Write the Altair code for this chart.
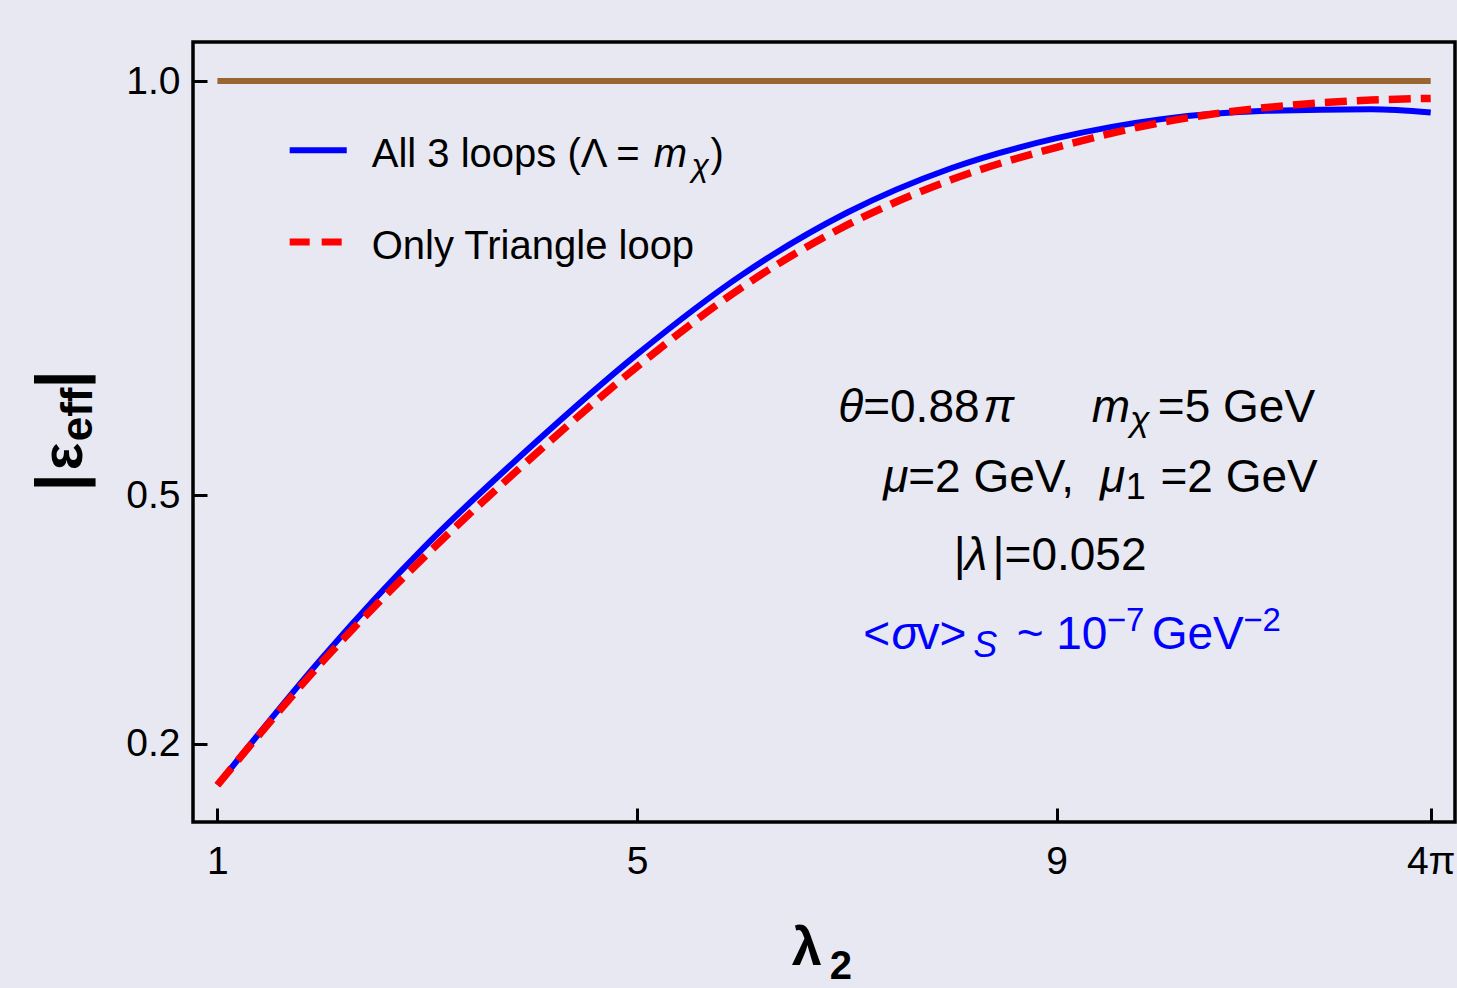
import math
import altair as alt
import pandas as pd

PI4 = 4 * math.pi

# ---- data ----
lam = [1, 2, 3, 4, 5, 6, 7, 8, 9, 10, 11, 12, PI4]
all_loops = [0.150, 0.304, 0.441, 0.560, 0.670, 0.766, 0.841, 0.895, 0.931, 0.954, 0.964, 0.966, 0.962]
triangle_only = [0.150, 0.299, 0.429, 0.546, 0.655, 0.751, 0.826, 0.881, 0.920, 0.950, 0.968, 0.977, 0.979]
ref_lam = [1, PI4]
ref_val = [1.0, 1.0]

x_ticks = [1, 5, 9, PI4]
y_ticks = [0.2, 0.5, 1.0]

FONT = "Liberation Sans"
BG = "#E8E8F2"
BLUE = "#0000FF"
RED = "#FF0000"
BROWN = "#996633"

xs = alt.Scale(domain=[0.7673, 12.798], nice=False, zero=False)
ys = alt.Scale(domain=[0.1056, 1.0471], nice=False, zero=False)

x_axis = alt.Axis(values=x_ticks, title=None, domain=False, grid=False,
                  labelExpr="datum.value > 12 ? '4π' : format(datum.value, 'd')",
                  tickSize=14, tickWidth=3, tickColor="black", offset=-14,
                  labelFont=FONT, labelFontSize=39, labelColor="black",
                  labelPadding=20, labelFlush=False, labelOverlap=False)
y_axis = alt.Axis(values=y_ticks, title=None, domain=False, grid=False, format=".1f",
                  tickSize=14, tickWidth=3, tickColor="black", offset=-14,
                  labelFont=FONT, labelFontSize=39, labelColor="black",
                  labelPadding=13, labelFlush=False, labelOverlap=False)


def X():
    return alt.X("lam:Q", scale=xs, axis=x_axis)


def Y():
    return alt.Y("v:Q", scale=ys, axis=y_axis)


ref_df = pd.DataFrame({"lam": ref_lam, "v": ref_val})
all_df = pd.DataFrame({"lam": lam, "v": all_loops})
tri_df = pd.DataFrame({"lam": lam, "v": triangle_only})

brown = alt.Chart(ref_df).mark_line(color=BROWN, strokeWidth=6).encode(x=X(), y=Y())
blue = alt.Chart(all_df).mark_line(color=BLUE, strokeWidth=6, interpolate="monotone").encode(x=X(), y=Y())
red = alt.Chart(tri_df).mark_line(color=RED, strokeWidth=7.5, strokeDash=[22, 10],
                                  interpolate="monotone").encode(x=X(), y=Y())

# legend samples (in data units)
leg_blue = alt.Chart(pd.DataFrame({"lam": [1.689], "lam2": [2.233], "v": [0.9164]})).mark_rule(
    color=BLUE, strokeWidth=6).encode(x=X(), x2="lam2:Q", y=Y())
leg_red = alt.Chart(pd.DataFrame({"lam": [1.689], "lam2": [2.233], "v": [0.8057]})).mark_rule(
    color=RED, strokeWidth=7, strokeDash=[20, 12]).encode(x=X(), x2="lam2:Q", y=Y())


def txt(s, x, y, size, italic=False, bold=False, color="black", angle=None, pixel=False):
    df = pd.DataFrame({"t": [s], "lam": [x], "v": [y]})
    kw = dict(align="left", baseline="alphabetic", font=FONT, fontSize=size, color=color)
    if italic:
        kw["fontStyle"] = "italic"
    if bold:
        kw["fontWeight"] = "bold"
    if angle is not None:
        kw["angle"] = angle
    m = alt.Chart(df).mark_text(**kw)
    if pixel:
        return m.encode(text="t:N", x=alt.value(x), y=alt.value(y))
    return m.encode(text="t:N", x=X(), y=Y())


texts = [
    # legend
    txt("All 3 loops (Λ = ", 2.471, 0.8958, 40),
    txt("m", 5.160, 0.8958, 40, italic=True),
    txt("χ", 5.520, 0.885, 32, italic=True),
    txt(")", 5.700, 0.8958, 40),
    txt("Only Triangle loop", 2.471, 0.7856, 40),
    # parameters
    txt("θ", 6.918, 0.588, 46, italic=True),
    txt("=0.88", 7.156, 0.588, 46),
    txt("π", 8.300, 0.588, 46, italic=True),
    txt("m", 9.334, 0.588, 46, italic=True),
    txt("χ", 9.700, 0.5772, 36, italic=True),
    txt("=5 GeV", 9.965, 0.588, 46),
    txt("μ", 7.347, 0.5039, 46, italic=True),
    txt("=2 GeV,", 7.585, 0.5039, 46),
    txt("μ", 9.413, 0.5039, 46, italic=True),
    txt("1", 9.660, 0.4960, 36),
    txt("=2 GeV", 9.990, 0.5039, 46),
    txt("|", 8.020, 0.4094, 46),
    txt("λ", 8.125, 0.4094, 46, italic=True),
    txt("|=0.052", 8.390, 0.4094, 46),
    txt("<", 7.156, 0.3149, 46, color=BLUE),
    txt("σ", 7.427, 0.3149, 46, italic=True, color=BLUE),
    txt("v>", 7.665, 0.3149, 46, color=BLUE),
    txt("S", 8.205, 0.3048, 36, italic=True, color=BLUE),
    txt("~ 10", 8.619, 0.3149, 46, color=BLUE),
    txt("\u22127", 9.477, 0.3358, 33, color=BLUE),
    txt("GeV", 9.906, 0.3149, 46, color=BLUE),
    txt("\u22122", 10.780, 0.3358, 33, color=BLUE),
    # axis titles (pixel positions relative to plot area)
    txt("λ", 598.7, 923.3, 54, bold=True, pixel=True),
    txt("2", 636.7, 937.3, 40, bold=True, pixel=True),
    txt("|", -112.3, 449.3, 64, bold=True, angle=270, pixel=True),
    txt("ε", -111.3, 428.3, 58, bold=True, angle=270, pixel=True),
    txt("eff", -101.3, 399.3, 44, bold=True, angle=270, pixel=True),
    txt("|", -112.3, 346.3, 64, bold=True, angle=270, pixel=True),
]

chart = alt.layer(brown, blue, red, leg_blue, leg_red, *texts).properties(
    width=1262, height=780,
    autosize=alt.AutoSizeParams(type="none"),
    padding={"left": 193, "top": 42, "right": 2, "bottom": 166},
    background=BG,
).configure_view(stroke="black", strokeWidth=3.5)

chart.save("out.html", embed_options={"renderer": "svg", "actions": False})
